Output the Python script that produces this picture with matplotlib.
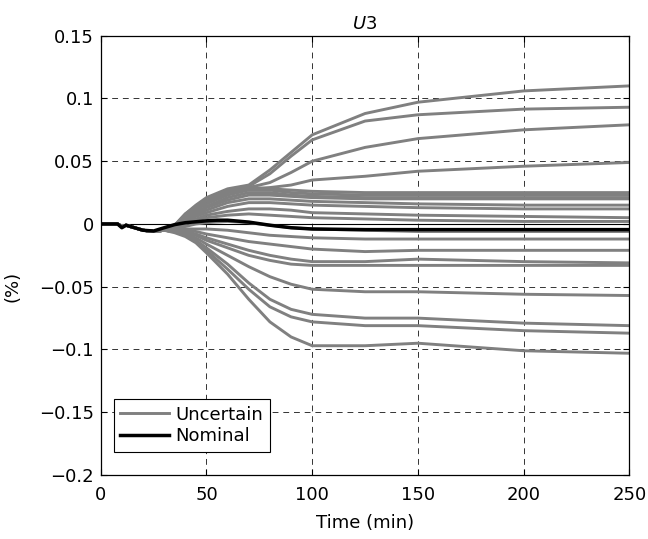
import matplotlib
matplotlib.use("Agg")
import matplotlib.pyplot as plt

plt.rcParams.update({
    "font.family": ["DejaVu Sans"],
    "font.size": 13,
    "mathtext.fontset": "dejavusans",
})

# Data
title = r"$\mathit{U}$3"
xlabel = "Time (min)"
ylabel = "(%)"
xticks = [0, 50, 100, 150, 200, 250]
yticks = [0.15, 0.1, 0.05, 0, -0.05, -0.1, -0.15, -0.2]
ytick_labels = ["0.15", "0.1", "0.05", "0", "\u22120.05", "\u22120.1", "\u22120.15", "\u22120.2"]

# common start of every uncertain run (min, %)
t_early = [0, 8, 10, 12, 20, 25, 30]
v_early = [0, 0, -0.002, -0.001, -0.005, -0.006, -0.005]
# after the fan-out
t_late = [35, 40, 45, 50, 60, 70, 80, 90, 100, 125, 150, 200, 250]
uncertain = [
    [-0.001, 0.008, 0.015, 0.021, 0.028, 0.031, 0.043, 0.057, 0.071, 0.088, 0.097, 0.106, 0.110],
    [-0.001, 0.008, 0.014, 0.020, 0.027, 0.030, 0.040, 0.054, 0.067, 0.082, 0.087, 0.0915, 0.093],
    [-0.002, 0.007, 0.013, 0.019, 0.026, 0.029, 0.033, 0.041, 0.050, 0.061, 0.068, 0.075, 0.079],
    [-0.002, 0.006, 0.012, 0.018, 0.025, 0.028, 0.029, 0.031, 0.035, 0.038, 0.042, 0.046, 0.049],
    [-0.002, 0.006, 0.012, 0.018, 0.025, 0.029, 0.028, 0.027, 0.026, 0.025, 0.025, 0.025, 0.025],
    [-0.002, 0.005, 0.011, 0.016, 0.023, 0.027, 0.027, 0.025, 0.024, 0.023, 0.023, 0.023, 0.023],
    [-0.003, 0.004, 0.009, 0.014, 0.021, 0.025, 0.025, 0.023, 0.022, 0.021, 0.021, 0.021, 0.021],
    [-0.003, 0.004, 0.008, 0.013, 0.019, 0.023, 0.023, 0.022, 0.021, 0.020, 0.020, 0.020, 0.020],
    [-0.003, 0.003, 0.007, 0.011, 0.017, 0.020, 0.020, 0.019, 0.018, 0.017, 0.016, 0.015, 0.015],
    [-0.003, 0.002, 0.006, 0.009, 0.014, 0.017, 0.017, 0.016, 0.015, 0.014, 0.013, 0.012, 0.012],
    [-0.004, 0.001, 0.004, 0.007, 0.010, 0.012, 0.012, 0.011, 0.009, 0.008, 0.007, 0.006, 0.005],
    [-0.004, 0.000, 0.003, 0.005, 0.007, 0.008, 0.007, 0.006, 0.005, 0.004, 0.003, 0.002, 0.002],
    [-0.004, -0.002, 0.000, 0.001, 0.002, 0.001, -0.001, -0.003, -0.004, -0.005, -0.006, -0.006, -0.006],
    [-0.005, -0.004, -0.004, -0.004, -0.005, -0.007, -0.009, -0.010, -0.011, -0.012, -0.012, -0.012, -0.012],
    [-0.005, -0.005, -0.006, -0.008, -0.011, -0.014, -0.016, -0.018, -0.020, -0.022, -0.021, -0.021, -0.021],
    [-0.006, -0.006, -0.008, -0.011, -0.016, -0.021, -0.025, -0.028, -0.030, -0.030, -0.028, -0.030, -0.031],
    [-0.006, -0.007, -0.009, -0.013, -0.019, -0.025, -0.029, -0.032, -0.033, -0.033, -0.033, -0.033, -0.033],
    [-0.006, -0.008, -0.011, -0.016, -0.025, -0.034, -0.042, -0.048, -0.052, -0.054, -0.054, -0.056, -0.057],
    [-0.006, -0.009, -0.013, -0.019, -0.032, -0.047, -0.060, -0.068, -0.072, -0.075, -0.075, -0.079, -0.081],
    [-0.006, -0.009, -0.014, -0.021, -0.036, -0.052, -0.066, -0.074, -0.078, -0.081, -0.081, -0.085, -0.087],
    [-0.007, -0.010, -0.015, -0.023, -0.040, -0.060, -0.078, -0.090, -0.097, -0.097, -0.095, -0.101, -0.103],
]

t_nominal = [0, 8, 10, 12, 20, 25, 30, 35, 40, 50, 55, 60, 70, 80, 90, 100, 125, 150, 200, 250]
v_nominal = [0, 0, -0.003, -0.001, -0.005, -0.0056, -0.003, -0.0005, 0.001, 0.0025, 0.003, 0.003,
             0.0015, -0.001, -0.003, -0.004, -0.0045, -0.0045, -0.0045, -0.0045]

fig = plt.figure(figsize=(6.48, 5.39), dpi=100)
ax = fig.add_axes([0.1554, 0.1187, 0.8160, 0.8151])

ax.axhline(0, color="black", lw=0.8, zorder=1)
for i, run in enumerate(uncertain):
    ax.plot(t_early + t_late, v_early + run, color="#808080", lw=2.1,
            label="Uncertain" if i == 0 else None, zorder=2)
ax.plot(t_nominal, v_nominal, color="black", lw=2.5, label="Nominal", zorder=3)

ax.set_xlim(0, 250)
ax.set_ylim(-0.2, 0.15)
ax.set_xticks(xticks)
ax.set_yticks(yticks)
ax.set_yticklabels(ytick_labels)
ax.set_axisbelow(True)
ax.grid(True, color="#333333", lw=0.7, linestyle=(0, (6, 5)))
ax.tick_params(direction="in", top=True, right=True, length=4, width=0.8, labelsize=13)
ax.tick_params(axis="x", pad=8)
ax.tick_params(axis="y", pad=5)
for s in ax.spines.values():
    s.set_linewidth(0.9)

ax.set_title(title, fontsize=13, pad=5)
ax.set_xlabel(xlabel, fontsize=13, labelpad=7)
ax.set_ylabel(ylabel, fontsize=13)
ax.yaxis.set_label_coords(-0.15, 0.43)

leg = ax.legend(loc="lower left", bbox_to_anchor=(0.025, 0.053), borderaxespad=0,
                fancybox=False, framealpha=1, edgecolor="black", handlelength=2.7,
                handletextpad=0.37, borderpad=0.35, labelspacing=0.2, fontsize=13)
leg.get_frame().set_linewidth(0.8)

fig.savefig("out.png", dpi=100)
